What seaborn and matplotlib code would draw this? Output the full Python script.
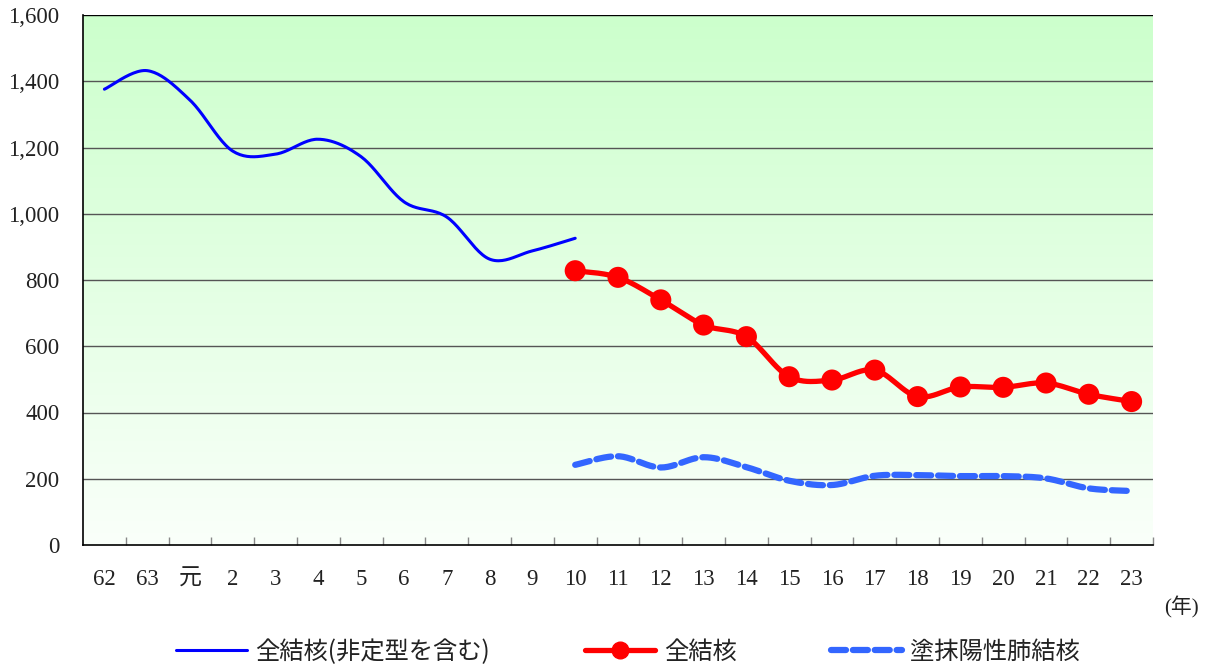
import numpy as np
import pandas as pd
import matplotlib
matplotlib.use("Agg")
import matplotlib.pyplot as plt
from matplotlib.lines import Line2D
from matplotlib.ticker import FuncFormatter, MultipleLocator
import seaborn as sns

# x categories (Showa 62, 63, Heisei 元..23)
years = ["62", "63", "元"] + [str(i) for i in range(2, 24)]

# 全結核(非定型を含む): 62 .. 10
all_tb_incl = [1376, 1432, 1343, 1189, 1180, 1225, 1172, 1036, 990, 863, 888, 926]
# 全結核: 10 .. 23
all_tb = [828, 808, 740, 664, 629, 508, 498, 528, 448, 477, 476, 489, 455, 433]
# 塗抹陽性肺結核: 10 .. 23
smear_pos = [242, 268, 234, 265, 235, 194, 181, 209, 211, 208, 208, 201, 171, 163]

labels = ["全結核(非定型を含む)", "全結核", "塗抹陽性肺結核"]


def smooth(xs, ys, n=24):
    # Catmull-Rom curve through the points (like Excel's smoothed line)
    xs = np.asarray(xs, float)
    ys = np.asarray(ys, float)
    px = np.r_[xs[0], xs, xs[-1]]
    py = np.r_[ys[0], ys, ys[-1]]
    ox, oy = [], []
    t = np.linspace(0, 1, n, endpoint=False)
    for i in range(1, len(px) - 2):
        for p, out in ((px, ox), (py, oy)):
            p0, p1, p2, p3 = p[i - 1], p[i], p[i + 1], p[i + 2]
            out.extend(0.5 * (2 * p1 + (-p0 + p2) * t
                              + (2 * p0 - 5 * p1 + 4 * p2 - p3) * t ** 2
                              + (-p0 + 3 * p1 - 3 * p2 + p3) * t ** 3))
    ox.append(xs[-1])
    oy.append(ys[-1])
    return pd.DataFrame({"x": ox, "y": oy})


sns.set_theme(style="white")
plt.rcParams["font.family"] = ["Liberation Serif", "Noto Sans CJK JP", "DejaVu Sans"]

fig = plt.figure(figsize=(12.08, 6.68), dpi=100)
ax = fig.add_axes([83 / 1208, 1 - 545 / 668, 1070 / 1208, 530 / 668])

x_all = np.arange(len(years))
i10 = years.index("10")

# gradient background
grad = np.linspace(0, 1, 256)[:, None]
top = np.array([204, 255, 204]) / 255
bot = np.array([250, 255, 250]) / 255
img = bot + (top - bot) * grad[..., None]
ax.imshow(img, extent=[-0.5, len(years) - 0.5, 0, 1600], origin="lower",
          aspect="auto", zorder=0)

for yv in range(200, 1601, 200):
    ax.axhline(yv, color="#555555" if yv < 1600 else "black", lw=1, zorder=1)

d1 = smooth(x_all[:i10 + 1], all_tb_incl)
sns.lineplot(data=d1, x="x", y="y", sort=False, color="#0000ff", lw=2.2, ax=ax, zorder=3)

d2 = smooth(x_all[i10:], all_tb)
sns.lineplot(data=d2, x="x", y="y", sort=False, color="#ff0000", lw=3.8, ax=ax, zorder=4)
sns.scatterplot(x=x_all[i10:], y=all_tb, color="#ff0000", s=230, edgecolor="none",
                ax=ax, zorder=5)

d3 = smooth(x_all[i10:], smear_pos)
sns.lineplot(data=d3, x="x", y="y", sort=False, color="#3366ff", lw=4.5, ax=ax, zorder=3,
             dashes=False)
ax.lines[-1].set_dashes([2.4, 1.1])
ax.lines[-1].set_dash_capstyle("round")

ax.set_xlim(-0.5, len(years) - 0.5)
ax.set_ylim(0, 1600)
ax.set_xticks(x_all)
ax.set_xticklabels(years)
ax.set_xticks(np.arange(0.5, len(years), 1), minor=True)
ax.yaxis.set_major_locator(MultipleLocator(200))
ax.yaxis.set_major_formatter(FuncFormatter(lambda v, p: f"{int(v):,}"))
ax.tick_params(axis="x", which="major", length=0, pad=17, labelsize=16.5, colors="#222222")
ax.tick_params(axis="x", which="minor", length=6, width=1, direction="in", color="#888888",
               bottom=True)
ax.tick_params(axis="y", length=0, pad=17, labelsize=16.5, colors="#222222")
ax.set_xlabel("")
ax.set_ylabel("")
for s in ["top", "right"]:
    ax.spines[s].set_visible(False)
for s in ["left", "bottom"]:
    ax.spines[s].set_color("black")
    ax.spines[s].set_linewidth(1.2)
ax.grid(False)

fig.text(1181 / 1208, 1 - 607 / 668, "(年)", ha="center", va="center", fontsize=15,
         color="#222222")

handles = [
    Line2D([], [], color="#0000ff", lw=2.2),
    Line2D([], [], color="#ff0000", lw=3.8, marker="o", markersize=12),
    Line2D([], [], color="#3366ff", lw=4.5, dashes=[2.4, 1.1], dash_capstyle="round"),
]
fig.legend(handles, labels, loc="center", bbox_to_anchor=(628 / 1208, 1 - 652 / 668),
           ncol=3, frameon=False, handlelength=2.9, handletextpad=0.35, columnspacing=3.9,
           prop={"family": "Noto Sans CJK JP", "size": 17.5}, labelcolor="#222222")

fig.savefig("out.png", dpi=100)
